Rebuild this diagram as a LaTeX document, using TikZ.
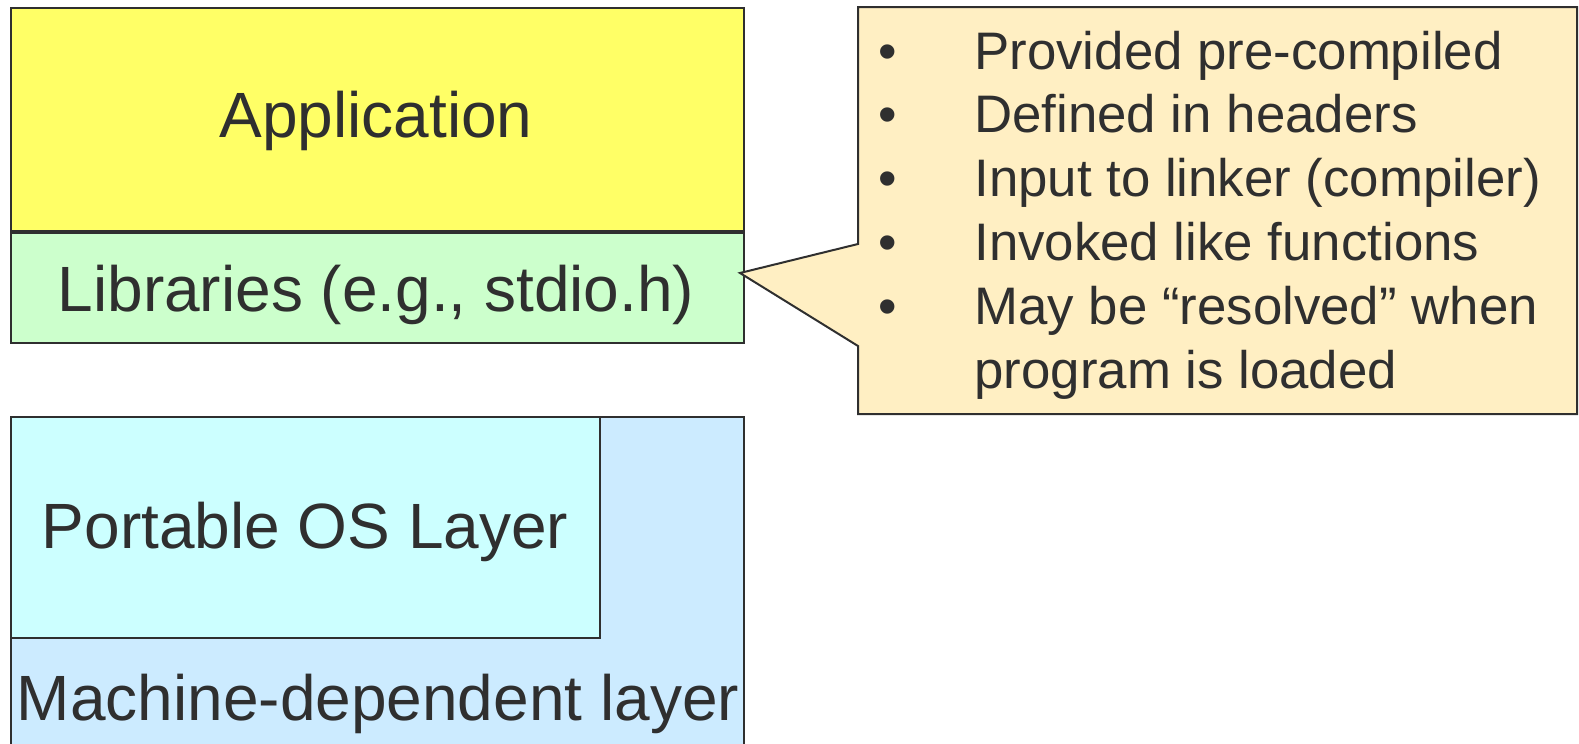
\documentclass[tikz,border=0pt]{standalone}
\usepackage{fontspec}
\setmainfont{Liberation Sans}
\usetikzlibrary{positioning}

\definecolor{appyellow}{HTML}{FFFF66}
\definecolor{libgreen}{HTML}{CCFFCC}
\definecolor{notecream}{HTML}{FFEFC3}
\definecolor{oscyan}{HTML}{CCFFFF}
\definecolor{machblue}{HTML}{CCEBFF}
\definecolor{edgegray}{HTML}{2F2F2F}

\begin{document}
\begin{tikzpicture}[x=0.5pt,y=-0.5pt,
    layer/.style={draw=edgegray, line width=1pt, inner sep=0pt, anchor=north west},
    boxtext/.style={font=\fontsize{32}{38}\selectfont, text=edgegray, inner sep=0pt, anchor=base},
    notetext/.style={font=\fontsize{26.4}{31.9}\selectfont, text=edgegray, inner sep=0pt, anchor=base west},
    callout/.style={draw=edgegray, fill=notecream, line width=1pt, line join=miter}]
            \useasboundingbox (0,0) rectangle (1579,744);
            \clip (0,0) rectangle (1579,744);
            % left stack
            \node [layer, fill=appyellow, minimum width=366.5pt, minimum height=111.5pt] (app) at (10,7) {};
            \node [layer, fill=libgreen, minimum width=366.5pt, minimum height=55pt] (lib) at (app.south west) {};
            \draw [edgegray, line width=2pt] (app.south west) -- (app.south east);
            \node [layer, fill=machblue, minimum width=366.5pt, minimum height=200pt] (mach) at ([yshift=-36pt]lib.south west) {};
            \node [layer, fill=oscyan, minimum width=294.5pt, minimum height=110.5pt] (os) at (mach.north west) {};
            \node [boxtext] (apptext) at (376,137) {Application};
            \node [boxtext] (libtext) at (376,311) {Libraries (e.g., stdio.h)};
            \node [boxtext] (ostext) at (305,548) {Portable OS Layer};
            \node [boxtext] (machtext) at (378,720) {Machine-dependent layer};
            % callout
            \coordinate (tip) at (740,273);
            \coordinate (nw) at (858,7);
            \coordinate (se) at (1577,414);
            \draw [callout] (nw) -- (nw -| se) -- (se) -- (se -| nw) -- (858,346) -- (tip) -- (858,244) -- cycle;
            \node [notetext] (notes) at (878,69) {%
              \begin{tabular}[t]{@{}p{48pt}@{}l@{}}
                • & Provided pre-compiled\\
                • & Defined in headers\\
                • & Input to linker (compiler)\\
                • & Invoked like functions\\
                • & May be “resolved” when\\
                  & program is loaded
              \end{tabular}};
\end{tikzpicture}
\end{document}
